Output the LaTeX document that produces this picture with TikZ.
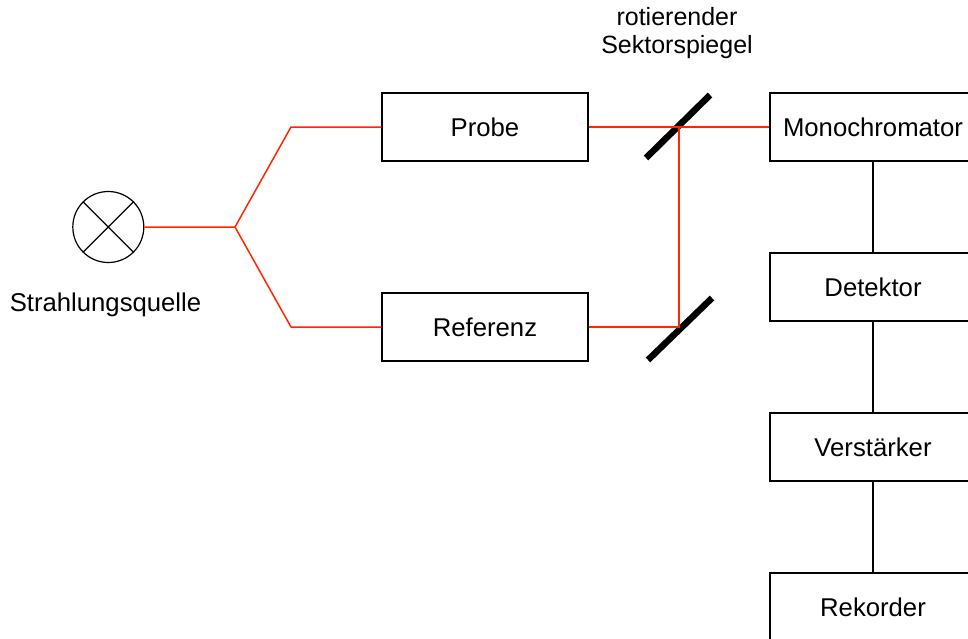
\documentclass[tikz,border=0pt]{standalone}
\usepackage{fontspec}
\setmainfont{Liberation Sans}
\definecolor{beam}{HTML}{FF2600}
\tikzset{
  blockbox/.style={draw=black,line width=1.2pt,minimum width=206pt,minimum height=68pt,inner sep=0pt,text height=19.5pt,text depth=0pt,font=\fontsize{25.7}{28}\selectfont},
  beamline/.style={draw=beam,line width=1.5pt,line join=miter},
  wire/.style={draw=black,line width=1.2pt},
  mirror/.style={draw=black,line width=6.5pt},
  caption/.style={inner sep=0pt,align=center,font=\fontsize{25.7}{28}\selectfont},
  topcaption/.style={caption,font=\fontsize{25}{28}\selectfont},
  lamp/.style={draw=black,line width=1.2pt,circle,minimum size=71pt,inner sep=0pt}
}
\begin{document}
\begin{tikzpicture}[x=1pt,y=-1pt]
\useasboundingbox (0,0) rectangle (968,638);
\clip (0,0) rectangle (968,638);
\node[lamp] (L) at (108.3,227) {};
\draw[wire] (L.45) -- (L.225) (L.135) -- (L.315);
\node[blockbox] (P) at (485,127) {Probe};
\node[blockbox] (R) at (485,327) {Referenz};
\node[blockbox] (M) at (873,127) {Monochromator};
\node[blockbox] (D) at (873,287) {Detektor};
\node[blockbox] (V) at (873,447) {Verstärker};
\node[blockbox] (K) at (873,607) {Rekorder};
\coordinate (J) at (235,227);
\coordinate (JP) at (291,127);
\coordinate (JR) at (291,327);
\coordinate (T) at (679,127);
\coordinate (B) at (679,327);
\coordinate (M1a) at (646,158);
\coordinate (M1b) at (710,95);
\coordinate (M2a) at (648,360);
\coordinate (M2b) at (712,298);
\draw[mirror] (M1a) -- (M1b);
\draw[mirror] (M2a) -- (M2b);
\draw[beamline] (L.east) -- (J) -- (JP) -- (P.west);
\draw[beamline] (J) -- (JR) -- (R.west);
\draw[beamline] (P.east) -- (M.west);
\draw[beamline] (R.east) -- (B) -- (T);
\draw[wire] (M) -- (D);
\draw[wire] (D) -- (V);
\draw[wire] (V) -- (K);
\node[caption] (S) at (105.5,304.5) {Strahlungsquelle};
\node[topcaption] (C) at (677,33.5) {rotierender\\Sektorspiegel};
\end{tikzpicture}
\end{document}
